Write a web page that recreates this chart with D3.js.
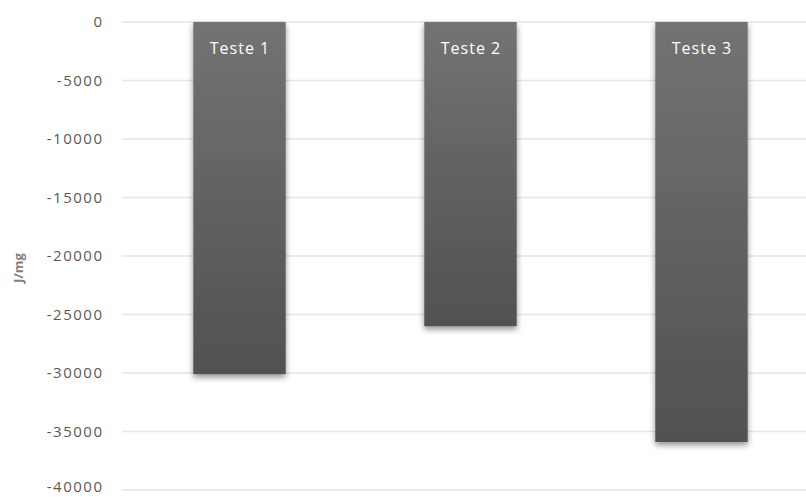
<!DOCTYPE html>
<html>
<head>
<meta charset="utf-8">
<script src="https://cdn.jsdelivr.net/npm/d3@7"></script>
<style>
  html, body { margin: 0; padding: 0; background: #ffffff; }
  svg { display: block; font-family: "Open Sans", "Liberation Sans", sans-serif; }
</style>
</head>
<body>
<svg id="chart" width="806" height="497"></svg>
<script>
const categories = ["Teste 1", "Teste 2", "Teste 3"];
const values = [-30100, -26000, -35900];
const yTicks = [0, -5000, -10000, -15000, -20000, -25000, -30000, -35000, -40000];
const yTitle = "J/mg";

const W = 806, H = 497;
const svg = d3.select("#chart");
const defs = svg.append("defs");

const grad = defs.append("linearGradient").attr("id", "barGrad")
  .attr("x1", 0).attr("y1", 0).attr("x2", 0).attr("y2", 1);
grad.append("stop").attr("offset", "0%").attr("stop-color", "#737373");
grad.append("stop").attr("offset", "100%").attr("stop-color", "#515151");

const shadow = defs.append("filter").attr("id", "shadow")
  .attr("x", "-20%").attr("y", "-20%").attr("width", "140%").attr("height", "140%");
shadow.append("feGaussianBlur").attr("in", "SourceAlpha").attr("stdDeviation", 3);
shadow.append("feOffset").attr("dx", 0).attr("dy", 3).attr("result", "ob");
shadow.append("feComponentTransfer").append("feFuncA").attr("type", "linear").attr("slope", 0.45);
const merge = shadow.append("feMerge");
merge.append("feMergeNode");
merge.append("feMergeNode").attr("in", "SourceGraphic");

const y = d3.scaleLinear().domain([0, -40000]).range([22, 490]);
const x = d3.scaleBand().domain(categories).range([124, 817]).paddingInner(0.6).paddingOuter(0.3);

// gridlines
svg.append("g").selectAll("line").data(yTicks).join("line")
  .attr("x1", 122).attr("x2", W)
  .attr("y1", d => y(d)).attr("y2", d => y(d))
  .attr("stroke", "#e6e6e6").attr("stroke-width", 1.5);

// y axis labels
const yAxis = d3.axisLeft(y).tickValues(yTicks).tickSize(0).tickPadding(0).tickFormat(d => String(d));
const ag = svg.append("g").attr("transform", "translate(103.5,0)").call(yAxis);
ag.select(".domain").remove();
ag.selectAll("text").attr("fill", "#595959").style("font-size", "15px")
  .style("letter-spacing", "1.5px")
  .style("font-family", "'Open Sans', 'Liberation Sans', sans-serif")
  .attr("dy", d => d === -40000 ? "0.12em" : "0.32em");

// axis title
svg.append("text")
  .attr("transform", "translate(23,268) rotate(-90)")
  .attr("text-anchor", "middle")
  .attr("fill", "#7f7f7f")
  .style("font-size", "13px")
  .style("font-weight", "bold")
  .text(yTitle);

// bars
svg.append("g").selectAll("rect").data(values).join("rect")
  .attr("x", (d, i) => x(categories[i]))
  .attr("width", x.bandwidth())
  .attr("y", d => y(0))
  .attr("height", d => y(d) - y(0))
  .attr("fill", "url(#barGrad)")
  .attr("filter", "url(#shadow)");

// labels inside bars
svg.append("g").selectAll("text").data(categories).join("text")
  .attr("x", d => x(d) + x.bandwidth() / 2 + 0.5)
  .attr("y", 54)
  .attr("text-anchor", "middle")
  .attr("fill", "#ffffff")
  .style("font-size", "16px")
  .style("letter-spacing", "1px")
  .text(d => d);
</script>
</body>
</html>
